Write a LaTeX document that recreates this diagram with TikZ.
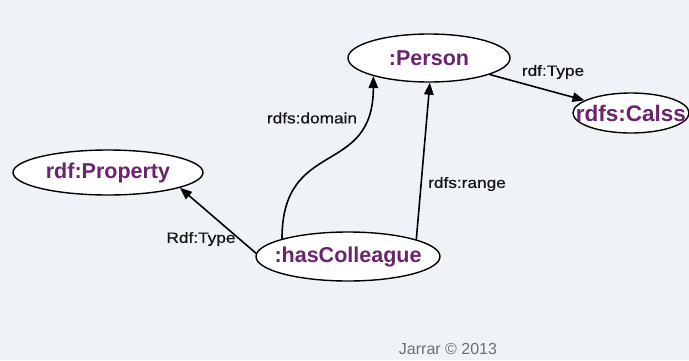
\documentclass[tikz,border=0pt]{standalone}
\usepackage{fontspec}
\setmainfont{Liberation Sans}
\newfontfamily\nodefont{Liberation Sans}
\newfontfamily\lblfont[FakeStretch=1.15,FakeBold=0.6]{Liberation Sans}
\usetikzlibrary{arrows.meta,shapes.geometric}
\definecolor{bgcol}{RGB}{239,243,247}
\definecolor{purp}{RGB}{107,35,110}
\definecolor{lblcol}{RGB}{20,20,20}
\definecolor{credit}{RGB}{110,110,115}
\tikzset{
  ell/.style={ellipse, draw=black, line width=1.4pt, fill=white, inner sep=0pt,
    font=\nodefont\bfseries\fontsize{21.5}{24}\selectfont, text=purp},
  lbl/.style={font=\lblfont\fontsize{15}{18}\selectfont, text=lblcol, inner sep=0pt},
  conn/.style={line width=1.6pt, -{Triangle[length=12pt,width=9.5pt]}}
}
\begin{document}
\begin{tikzpicture}[x=1pt,y=-1pt]
\useasboundingbox (0,0) rectangle (689,360);
\fill[bgcol] (0,0) rectangle (689,360);
% nodes
\node[ell, minimum width=162pt, minimum height=48pt] (person) at (429,58) {\makebox[0pt]{:Person}};
\node[ell, minimum width=116pt, minimum height=40pt, font=\nodefont\bfseries\fontsize{22.5}{24}\selectfont] (calss) at (631,113) {\makebox[0pt]{rdfs:Calss}};
\node[ell, minimum width=190pt, minimum height=45pt] (property) at (108,172.5) {\makebox[0pt]{rdf:Property}};
\node[ell, minimum width=184pt, minimum height=49pt] (hc) at (348,256.5) {\makebox[0pt]{:hasColleague}};
% connectors
\draw[conn] (person) -- (calss);
\draw[conn] (hc.178) -- (property.-12);
\draw[conn] (hc.165) to[out=90,in=-90,looseness=1.4] (person.198);
\draw[conn] (hc.14) -- (person.-88);
% labels
\node[lbl] (l1) at (553,72) {rdf:Type};
\node[lbl] (l2) at (312,118) {rdfs:domain};
\node[lbl] (l3) at (467,184) {rdfs:range};
\node[lbl] (l4) at (201,239) {Rdf:Type};
\node[font=\fontsize{16}{19}\selectfont, text=credit, inner sep=0pt] (credit) at (448,349) {Jarrar © 2013};
\end{tikzpicture}
\end{document}
